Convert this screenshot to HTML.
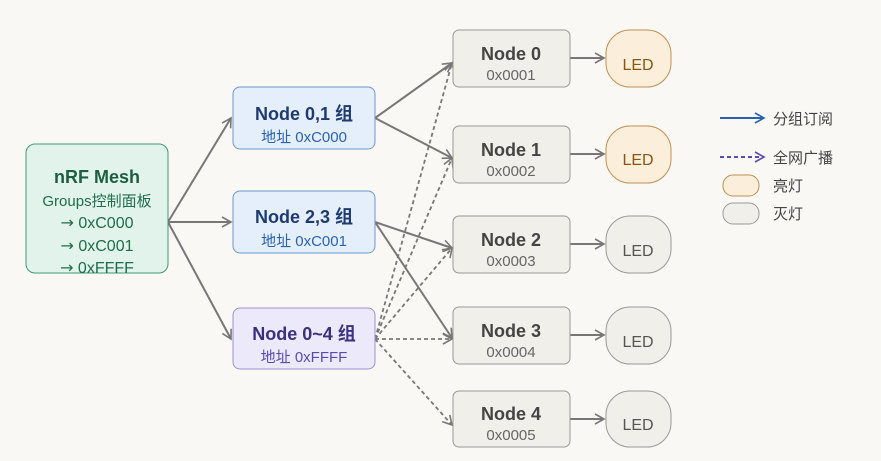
<!DOCTYPE html>
<html><head><meta charset="utf-8"><style>
body{margin:0;background:#f9f8f5;}
svg{display:block;font-family:"Liberation Sans","Noto Sans CJK SC",sans-serif;}
</style></head><body>
<svg width="881" height="461" viewBox="0 0 881 461" xmlns="http://www.w3.org/2000/svg">
<defs>
<marker id="a" markerWidth="12" markerHeight="12" refX="10" refY="6" orient="auto" markerUnits="userSpaceOnUse">
<path d="M1,1 L10,6 L1,11" fill="none" stroke="#777" stroke-width="1.6"/></marker>
<marker id="b" markerWidth="12" markerHeight="12" refX="10" refY="6" orient="auto" markerUnits="userSpaceOnUse">
<path d="M1,1 L10,6 L1,11" fill="none" stroke="#2a62b0" stroke-width="1.6"/></marker>
<marker id="p" markerWidth="12" markerHeight="12" refX="10" refY="6" orient="auto" markerUnits="userSpaceOnUse">
<path d="M1,1 L10,6 L1,11" fill="none" stroke="#5b4bb0" stroke-width="1.6"/></marker>
</defs>
<g stroke="#777" stroke-width="2" fill="none" marker-end="url(#a)">
<line x1="168" y1="222" x2="231" y2="118"/>
<line x1="168" y1="222" x2="231" y2="222"/>
<line x1="168" y1="222" x2="231" y2="339"/>
<line x1="375" y1="118" x2="452" y2="63"/>
<line x1="375" y1="118" x2="452" y2="158"/>
<line x1="375" y1="222" x2="452" y2="248"/>
<line x1="375" y1="222" x2="452" y2="338"/>
<line x1="570" y1="58" x2="604" y2="58"/>
<line x1="570" y1="154" x2="604" y2="154"/>
<line x1="570" y1="244" x2="604" y2="244"/>
<line x1="570" y1="335" x2="604" y2="335"/>
<line x1="570" y1="419" x2="604" y2="419"/>
</g>
<g stroke="#777" stroke-width="1.8" fill="none" stroke-dasharray="4,3" marker-end="url(#a)">
<line x1="375" y1="339" x2="452" y2="63"/>
<line x1="375" y1="339" x2="452" y2="158"/>
<line x1="375" y1="339" x2="452" y2="248"/>
<line x1="375" y1="339" x2="452" y2="339"/>
<line x1="375" y1="339" x2="452" y2="425"/>
</g>
<rect x="26" y="144" width="142" height="129" rx="9" fill="#e2f3ec" stroke="#3d9a72"/>
<g text-anchor="middle" fill="#1e6e4a">
<text x="97" y="183" font-size="18" font-weight="bold" fill="#1d5e42">nRF Mesh</text>
<text x="97" y="206" font-size="15">Groups控制面板</text>
<text x="97" y="228" font-size="16"><tspan font-family="DejaVu Sans">→</tspan> 0xC000</text>
<text x="97" y="251" font-size="16"><tspan font-family="DejaVu Sans">→</tspan> 0xC001</text>
<text x="97" y="273" font-size="16"><tspan font-family="DejaVu Sans">→</tspan> 0xFFFF</text>
</g>
<rect x="233" y="87" width="142" height="62" rx="7" fill="#e5effb" stroke="#6c97d0"/>
<rect x="233" y="191" width="142" height="62" rx="7" fill="#e5effb" stroke="#6c97d0"/>
<rect x="233" y="308" width="142" height="61" rx="7" fill="#ece9fb" stroke="#9a8fd6"/>
<g text-anchor="middle">
<text x="304" y="120" font-size="18" font-weight="bold" fill="#1e3a6e">Node 0,1 组</text>
<text x="304" y="142" font-size="15" fill="#2a62b0">地址 0xC000</text>
<text x="304" y="223" font-size="18" font-weight="bold" fill="#1e3a6e">Node 2,3 组</text>
<text x="304" y="246" font-size="15" fill="#2a62b0">地址 0xC001</text>
<text x="304" y="340" font-size="18" font-weight="bold" fill="#3b2f80">Node 0~4 组</text>
<text x="304" y="362" font-size="15" fill="#5b4bb0">地址 0xFFFF</text>
</g>
<g fill="#f1efe9" stroke="#999">
<rect x="453" y="30" width="117" height="57" rx="6"/>
<rect x="453" y="126" width="117" height="57" rx="6"/>
<rect x="453" y="216" width="117" height="57" rx="6"/>
<rect x="453" y="307" width="117" height="57" rx="6"/>
<rect x="453" y="391" width="117" height="56" rx="6"/>
</g>
<g text-anchor="middle">
<text x="511" y="60" font-size="18" font-weight="bold" fill="#444">Node 0</text>
<text x="511" y="80" font-size="15" fill="#666">0x0001</text>
<text x="511" y="156" font-size="18" font-weight="bold" fill="#444">Node 1</text>
<text x="511" y="176" font-size="15" fill="#666">0x0002</text>
<text x="511" y="246" font-size="18" font-weight="bold" fill="#444">Node 2</text>
<text x="511" y="266" font-size="15" fill="#666">0x0003</text>
<text x="511" y="337" font-size="18" font-weight="bold" fill="#444">Node 3</text>
<text x="511" y="357" font-size="15" fill="#666">0x0004</text>
<text x="511" y="420" font-size="18" font-weight="bold" fill="#444">Node 4</text>
<text x="511" y="440" font-size="15" fill="#666">0x0005</text>
</g>
<rect x="606" y="30" width="65" height="57" rx="24" fill="#fbeedb" stroke="#c09050"/>
<rect x="606" y="126" width="65" height="57" rx="24" fill="#fbeedb" stroke="#c09050"/>
<rect x="606" y="216" width="65" height="57" rx="24" fill="#f1efe9" stroke="#999"/>
<rect x="606" y="307" width="65" height="57" rx="24" fill="#f1efe9" stroke="#999"/>
<rect x="606" y="391" width="65" height="56" rx="24" fill="#f1efe9" stroke="#999"/>
<g text-anchor="middle" font-size="16">
<text x="638" y="70" fill="#8a5510">LED</text>
<text x="638" y="165" fill="#8a5510">LED</text>
<text x="638" y="256" fill="#555">LED</text>
<text x="638" y="347" fill="#555">LED</text>
<text x="638" y="430" fill="#555">LED</text>
</g>
<line x1="720" y1="118" x2="764" y2="118" stroke="#2a62b0" stroke-width="2" marker-end="url(#b)"/>
<line x1="720" y1="157" x2="764" y2="157" stroke="#5b4bb0" stroke-width="2" stroke-dasharray="4,3" marker-end="url(#p)"/>
<rect x="723" y="175" width="36" height="21" rx="10" fill="#fbeedb" stroke="#c09050"/>
<rect x="723" y="203" width="36" height="21" rx="10" fill="#f1efe9" stroke="#999"/>
<g font-size="15" fill="#444">
<text x="773" y="124">分组订阅</text>
<text x="773" y="163">全网广播</text>
<text x="773" y="191">亮灯</text>
<text x="773" y="219">灭灯</text>
</g>
</svg>
</body></html>
